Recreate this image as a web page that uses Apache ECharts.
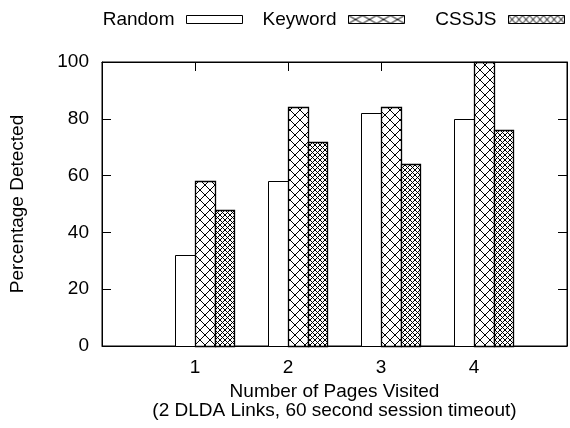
<!DOCTYPE html>
<html><head><meta charset="utf-8">
<script src="https://cdn.jsdelivr.net/npm/echarts@6/dist/echarts.min.js"></script>
<style>html,body{margin:0;padding:0;background:#fff}#c{width:570px;height:428px}</style>
</head><body><div id="c"></div>
<script>
const categories = [1, 2, 3, 4];
const xTickLabels = ['1', '2', '3', '4'];
const seriesNames = ['Random', 'Keyword', 'CSSJS'];
const randomVals = [32, 58, 82, 80];
const keywordVals = [58, 84, 84, 100];
const cssjsVals = [48, 72, 64, 76];
const yTicks = [0, 20, 40, 60, 80, 100];

const FONT = "'Liberation Sans', Arial, sans-serif";
const FS = 19;

function hatch(w, h, lw) {
  const c = document.createElement('canvas');
  c.width = w; c.height = h;
  const g = c.getContext('2d');
  g.fillStyle = '#fff'; g.fillRect(0, 0, w, h);
  g.strokeStyle = '#000'; g.lineWidth = lw;
  g.beginPath();
  g.moveTo(0, 0); g.lineTo(w, h);
  g.moveTo(w, 0); g.lineTo(0, h);
  g.stroke();
  return c;
}
const fills = ['#fff', { image: hatch(10, 10, 1), repeat: 'repeat' }, { image: hatch(5, 5, 1), repeat: 'repeat' }];
const legendFills = ['#fff', { image: hatch(14, 8, 1), repeat: 'repeat' }, { image: hatch(7, 8, 1), repeat: 'repeat' }];
const borderW = [1, 1.3, 1.3];
const BW = 0.21;
const offsets = [-0.21, 0, 0.21];
const valueSets = [randomVals, keywordVals, cssjsVals];

function makeSeries(k) {
  return {
    type: 'custom',
    name: seriesNames[k],
    data: categories.map((c, i) => [c, valueSets[k][i]]),
    encode: { x: 0, y: 1 },
    itemStyle: { color: fills[k], borderColor: '#000', borderWidth: borderW[k] },
    renderItem: function (params, api) {
      const x = api.value(0), y = api.value(1);
      const p0 = api.coord([x + offsets[k], 0]);
      const p1 = api.coord([x + offsets[k] + BW, y]);
      const x0 = Math.round(p0[0]) + 0.5, x1 = Math.round(p1[0]) + 0.5;
      const yb = Math.round(p0[1]) + 0.5, yt = Math.round(p1[1]) + 0.5;
      return {
        type: 'rect',
        shape: { x: x0, y: yt, width: x1 - x0, height: yb - yt },
        style: { fill: fills[k], stroke: '#000', lineWidth: borderW[k] }
      };
    }
  };
}

const legendRights = [327, 165, 5];
const textStyle = { fontFamily: FONT, fontSize: FS, color: '#000' };
const axisCommon = {
  axisLine: { show: true, onZero: false, lineStyle: { color: '#000' } },
  axisTick: { show: true, inside: true, length: 9, lineStyle: { color: '#000' } },
  splitLine: { show: false }
};

const chart = echarts.init(document.getElementById('c'), null, { renderer: 'canvas' });
chart.setOption({
  animation: false,
  backgroundColor: '#fff',
  textStyle: textStyle,
  legend: seriesNames.map((n, k) => ({
    data: [{ name: n, icon: 'rect', itemStyle: { color: legendFills[k], borderColor: '#000', borderWidth: 1 } }],
    right: legendRights[k], top: 10, padding: 0,
    align: 'right', itemWidth: 56, itemHeight: 8, selectedMode: false,
    textStyle: Object.assign({}, textStyle, { padding: [0, 7, 0, 0] })
  })),
  grid: { left: 101, right: 1, top: 62, bottom: 82, show: true, borderColor: '#000', borderWidth: 1, containLabel: false },
  xAxis: [Object.assign({
    type: 'value', min: 0, max: 5, interval: 1,
    axisLabel: { margin: 12, fontFamily: FONT, fontSize: FS, color: '#000',
      formatter: v => { const i = categories.indexOf(v); return i >= 0 ? xTickLabels[i] : ''; } },
    name: 'Number of Pages Visited\n(2 DLDA Links, 60 second session timeout)',
    nameLocation: 'middle', nameGap: 36,
    nameTextStyle: { fontFamily: FONT, fontSize: FS, color: '#000', lineHeight: 19, verticalAlign: 'top' }
  }, axisCommon), Object.assign({
    type: 'value', min: 0, max: 5, interval: 1, position: 'top', axisLabel: { show: false }
  }, axisCommon)],
  yAxis: [Object.assign({
    type: 'value', min: yTicks[0], max: yTicks[yTicks.length - 1], interval: 20,
    axisLabel: { margin: 13, fontFamily: FONT, fontSize: FS, color: '#000' },
    name: 'Percentage Detected', nameLocation: 'middle', nameGap: 75,
    nameTextStyle: { fontFamily: FONT, fontSize: FS, color: '#000' }
  }, axisCommon), Object.assign({
    type: 'value', min: yTicks[0], max: yTicks[yTicks.length - 1], interval: 20, position: 'right', axisLabel: { show: false }
  }, axisCommon)],
  series: [0, 1, 2].map(makeSeries)
});
</script>
</body></html>
